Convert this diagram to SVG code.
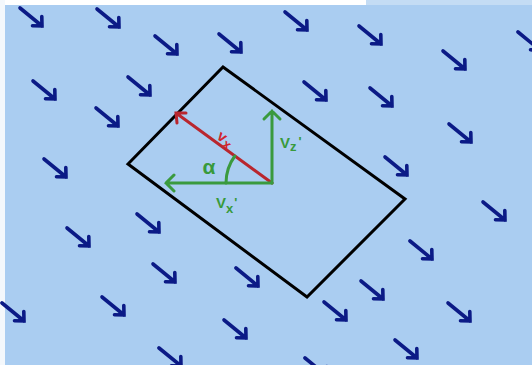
<svg xmlns="http://www.w3.org/2000/svg" xmlns:xlink="http://www.w3.org/1999/xlink" width="532" height="365" viewBox="0 0 532 365">
<style>
.flow{fill:none;stroke:#0b1a86;stroke-width:3.6;stroke-linecap:round;stroke-linejoin:miter}
.box{fill:none;stroke:#000;stroke-width:3;stroke-linejoin:miter}
.red{fill:none;stroke:#b9262e;stroke-width:3;stroke-linecap:round}
.grn{fill:none;stroke:#3a9a3e;stroke-width:3;stroke-linecap:round}
.lr{fill:#d0262e;font-family:"Liberation Sans",Arial,sans-serif;font-weight:bold}
.lg{fill:#389a3c;font-family:"Liberation Sans",Arial,sans-serif;font-weight:bold}
</style>
<defs>
<g id="arr"><path d="M0,0 L22,18 M12.5,17.8 L22,18 L21.8,8.5"/></g>
</defs>
<rect x="0" y="0" width="532" height="365" fill="#aacdf1"/>
<rect x="0" y="0" width="366" height="5" fill="#ffffff"/>
<rect x="366" y="0" width="166" height="5" fill="#c4dcf4"/>
<rect x="0" y="0" width="5" height="365" fill="#f4f8fc"/>
<g id="flow-field" class="flow">
<use href="#arr" x="20" y="8"/>
<use href="#arr" x="97" y="9"/>
<use href="#arr" x="155" y="36"/>
<use href="#arr" x="219" y="34"/>
<use href="#arr" x="33" y="81"/>
<use href="#arr" x="128" y="77"/>
<use href="#arr" x="96" y="108"/>
<use href="#arr" x="44" y="159"/>
<use href="#arr" x="285" y="12"/>
<use href="#arr" x="359" y="26"/>
<use href="#arr" x="443" y="51"/>
<use href="#arr" x="518" y="32"/>
<use href="#arr" x="304" y="82"/>
<use href="#arr" x="370" y="88"/>
<use href="#arr" x="449" y="124"/>
<use href="#arr" x="385" y="157"/>
<use href="#arr" x="137" y="214"/>
<use href="#arr" x="67" y="228"/>
<use href="#arr" x="153" y="264"/>
<use href="#arr" x="236" y="268"/>
<use href="#arr" x="102" y="297"/>
<use href="#arr" x="2" y="303"/>
<use href="#arr" x="224" y="320"/>
<use href="#arr" x="159" y="348"/>
<use href="#arr" x="483" y="202"/>
<use href="#arr" x="410" y="241"/>
<use href="#arr" x="361" y="281"/>
<use href="#arr" x="324" y="302"/>
<use href="#arr" x="448" y="303"/>
<use href="#arr" x="395" y="340"/>
<use href="#arr" x="305" y="358"/>
</g>
<g id="plate">
<polygon class="box" points="223,67 405,199 307,297 128,164"/>
</g>
<g id="connectors">
<path id="v-x" class="red" d="M272,183 L176,113 M177,123 L176,113 L186,113"/>
<path id="v-z-prime" class="grn" d="M272,183 L272,111 M264,119 L272,111 L280,119"/>
<path id="v-x-prime" class="grn" d="M272,183 L166,183 M174,175 L166,183 L174,191"/>
<path id="angle-arc" class="grn" d="M226,183 A46,46 0 0 1 234.8,156"/>
</g>
<g id="label-vx" transform="translate(224,139) rotate(35)">
<text class="lr" x="-7" y="4" font-size="15">v</text>
<text class="lr" x="2" y="7" font-size="13">x</text>
</g>
<g id="label-alpha">
<text class="lg" x="209" y="174" font-size="21" text-anchor="middle">α</text>
</g>
<g id="label-vz-prime">
<text class="lg" x="280" y="148" font-size="15">V<tspan font-size="13" dy="3">z</tspan><tspan font-size="13" dx="2" dy="-5">'</tspan></text>
</g>
<g id="label-vx-prime">
<text class="lg" x="216" y="208" font-size="15">V<tspan font-size="13" dy="5">x</tspan><tspan font-size="13" dx="1" dy="-6">'</tspan></text>
</g>
</svg>
